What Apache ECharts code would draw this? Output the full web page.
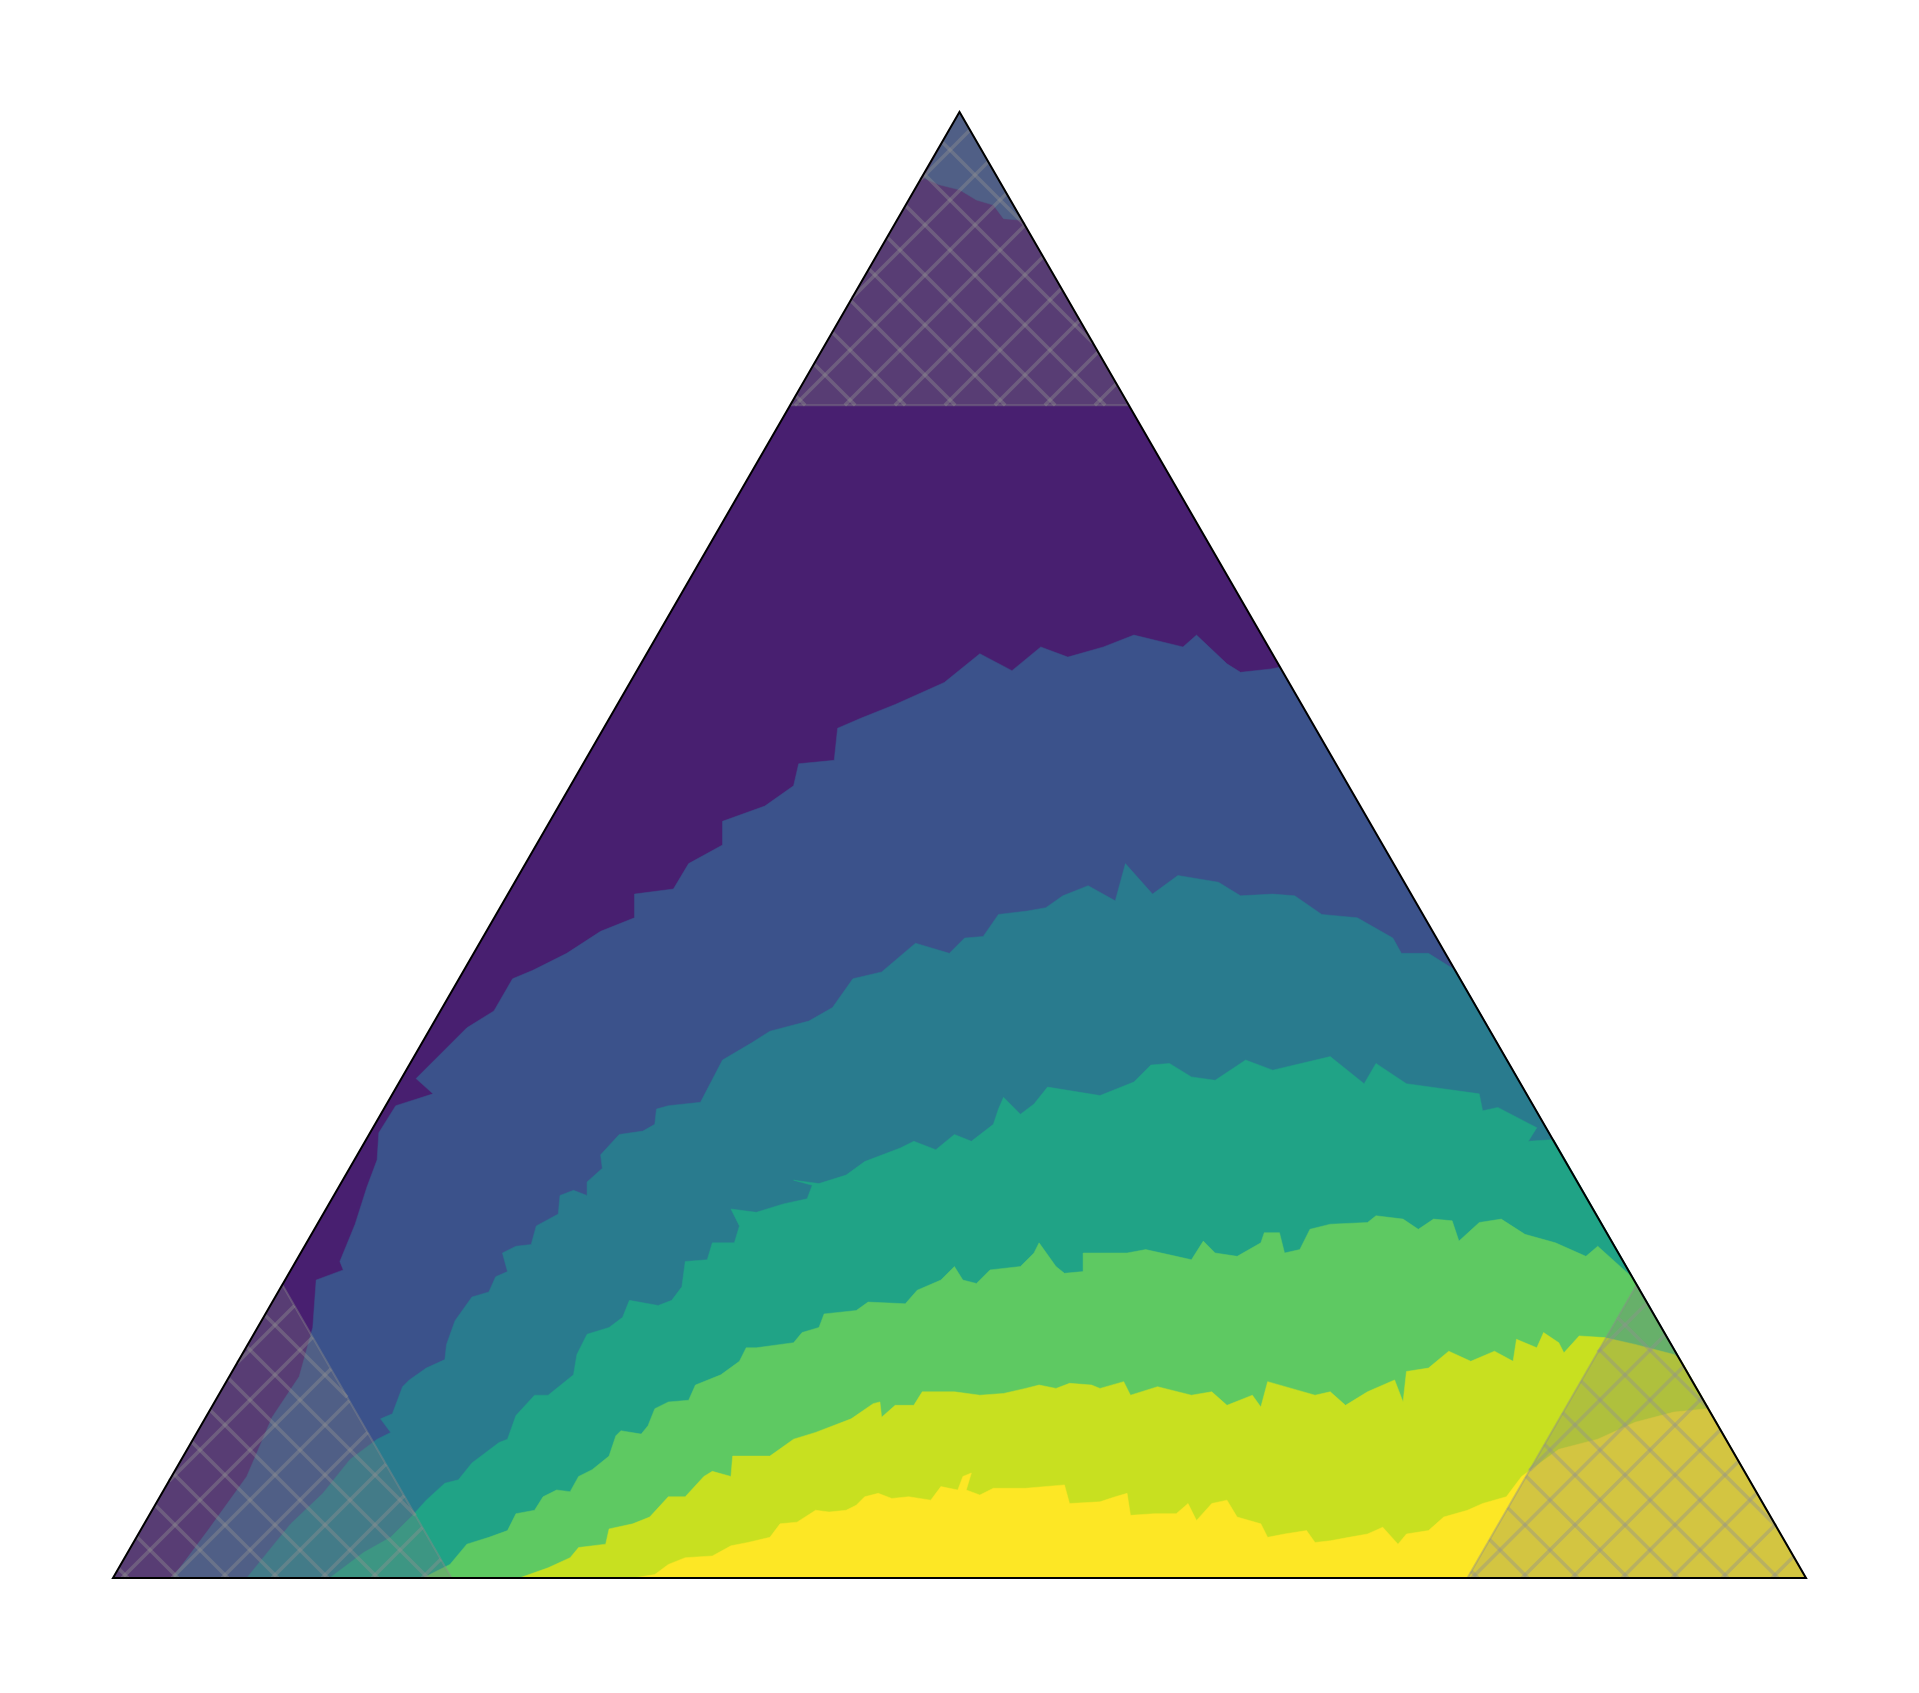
<!DOCTYPE html>
<html>
<head>
<meta charset="utf-8">
<script src="https://cdn.jsdelivr.net/npm/echarts@6/dist/echarts.min.js"></script>
<style>html,body{margin:0;padding:0;background:#fff}#chart{width:1919px;height:1693px}</style>
</head>
<body>
<div id="chart"></div>
<script>
// Ternary contour plot, cartesian projection in % of the triangle side (height 86.6)
const levelColors = ['#481f70', '#3b528b', '#297b8e', '#20a386', '#5ec962', '#c8e020', '#fde725'];
const hatchLimit = 0.8; // corner regions where a component exceeds 80 %
const triangle = [[0, 0], [100, 0], [50, 86.6]];

// top cap (level 1 reached again near the top vertex)
const topCap = [[47.9,82.7],[48.8,82.3],[50.0,82.0],[51.0,81.4],[52.0,81.1],[52.6,80.3],[53.7,80.2]];

// level 0 -> 1
const contour1 = [[3.5,0],[5.6,2.8],[7.9,6.0],[9.4,9.5],[11.0,11.9],[11.8,14.8],[12.0,17.6],[13.6,18.2],[13.4,18.7],[14.3,20.9],[15.0,23.1],[15.6,24.7],[15.7,26.3],[16.7,27.9],[18.9,28.6],[17.9,29.5],[19.6,31.2],[20.9,32.5],[22.5,33.5],[23.6,35.4],[24.8,35.9],[26.8,36.9],[28.8,38.2],[30.8,39.0],[30.8,40.4],[33.1,40.7],[34.0,42.2],[36.0,43.3],[36.0,44.7],[38.5,45.6],[40.2,46.8],[40.5,48.1],[42.6,48.3],[42.8,50.2],[44.2,50.8],[46.2,51.6],[49.1,52.9],[51.2,54.6],[53.1,53.6],[54.8,55.0],[56.4,54.4],[58.5,55.0],[60.3,55.7],[63.2,55.0],[64.0,55.7],[65.8,54.0],[66.6,53.5],[68.4,53.7],[68.9,53.8]];

// level 1 -> 2
const contour2 = [[7.9,0],[10.5,3.2],[12.4,5.0],[14.0,7.0],[15.6,8.2],[16.4,8.6],[15.8,9.4],[16.5,9.7],[17.1,11.3],[17.5,11.7],[18.5,12.4],[19.6,12.9],[19.7,13.8],[20.2,15.2],[21.2,16.6],[22.2,16.9],[22.6,17.8],[23.3,18.1],[23.0,19.2],[23.8,19.6],[24.7,19.7],[25.0,20.8],[26.3,21.5],[26.4,22.6],[27.2,22.9],[28.0,22.6],[28.0,23.4],[28.9,24.2],[28.8,25.0],[29.9,26.2],[31.3,26.4],[32.0,26.8],[32.1,27.7],[32.8,27.9],[34.7,28.1],[36.0,30.6],[37.7,31.6],[38.8,32.3],[41.1,32.9],[42.5,33.7],[43.7,35.4],[45.4,35.8],[47.4,37.5],[49.4,36.9],[50.3,37.8],[51.4,37.9],[52.3,39.2],[54.0,39.4],[55.1,39.6],[56.1,40.3],[57.6,40.9],[59.2,40.0],[59.8,42.2],[61.4,40.4],[62.9,41.5],[65.3,41.1],[66.6,40.3],[68.5,40.4],[69.8,40.3],[71.4,39.2],[73.5,39.0],[75.6,37.8],[76.1,36.9],[77.7,36.9],[79.3,35.9]];

// level 2 -> 3
const contour3 = [[12.8,0],[14.8,1.5],[16.4,2.4],[17.7,3.7],[18.5,4.6],[19.6,5.6],[20.4,5.8],[21.2,6.8],[22.8,8.0],[23.3,8.2],[23.8,9.6],[24.9,10.8],[25.7,10.8],[27.2,12.0],[27.4,13.2],[28.0,14.4],[29.3,14.8],[30.1,15.4],[30.5,16.4],[32.2,16.1],[33.0,16.4],[33.6,17.2],[33.8,18.7],[35.1,18.8],[35.4,19.8],[36.7,19.8],[37.0,20.8],[36.5,21.8],[38.0,21.6],[39.6,22.1],[41.0,22.4],[41.3,23.2],[40.2,23.5],[41.7,23.3],[43.3,23.8],[44.4,24.6],[46.5,25.4],[47.3,25.8],[48.6,25.3],[49.7,26.2],[50.7,25.8],[52.0,26.8],[52.3,27.7],[52.6,28.4],[53.6,27.4],[54.4,28.0],[55.2,29.0],[58.3,28.5],[60.3,29.3],[61.3,30.3],[62.4,30.4],[63.7,29.6],[65.1,29.4],[66.9,30.6],[68.5,30.0],[71.9,30.8],[73.9,29.2],[74.6,30.4],[76.4,29.2],[80.7,28.6],[80.9,27.6],[81.8,27.8],[84.1,26.6],[83.6,25.8],[85.1,25.9]];

// level 3 -> 4
const contour4 = [[18.3,0],[19.9,0.8],[20.9,2.0],[22.2,2.4],[23.3,2.8],[23.8,3.8],[24.9,4.0],[25.4,4.8],[26.2,5.2],[27.0,5.1],[27.5,6.0],[28.3,6.4],[29.3,7.2],[29.7,8.4],[30.0,8.7],[31.2,8.5],[31.6,9.0],[32.0,10.0],[32.8,10.4],[34.0,10.5],[34.4,11.4],[35.9,12.0],[37.0,12.8],[37.4,13.6],[38.0,13.6],[40.2,13.9],[40.7,14.5],[41.7,14.8],[42.0,15.6],[43.9,15.8],[44.6,16.3],[46.8,16.2],[47.5,17.0],[48.9,17.6],[49.7,18.4],[50.2,17.6],[51.0,17.4],[51.8,18.2],[53.6,18.4],[54.4,19.2],[54.7,19.8],[55.7,18.4],[56.2,18.0],[57.3,18.1],[57.3,19.2],[59.9,19.2],[61.0,19.4],[62.8,19.0],[63.7,18.8],[64.4,19.9],[65.1,19.2],[66.4,19.0],[67.8,19.8],[68.0,20.4],[68.9,20.4],[69.2,19.2],[70.1,19.4],[70.7,20.6],[71.9,20.9],[74.1,21.0],[74.6,21.4],[76.2,21.2],[77.1,20.6],[78.0,21.2],[79.1,21.1],[79.5,19.9],[80.7,21.0],[82.0,21.2],[83.4,20.3],[85.2,19.8],[87.0,19.0],[87.7,19.6],[89.7,17.8]];

// level 4 -> 5
const contour5 = [[24.0,0],[25.7,0.6],[27.0,1.2],[27.5,1.8],[29.1,2.0],[29.3,2.9],[30.7,3.2],[31.7,3.6],[32.8,4.8],[33.8,4.8],[34.9,6.0],[35.4,6.3],[36.5,6.0],[36.6,7.2],[38.8,7.2],[40.2,8.2],[41.5,8.6],[43.6,9.4],[44.9,10.3],[45.3,10.4],[45.4,9.5],[46.2,10.2],[47.3,10.2],[47.8,11.0],[49.7,11.0],[51.2,10.8],[52.6,10.9],[53.9,11.2],[54.7,11.4],[55.7,11.2],[56.5,11.5],[57.8,11.4],[58.3,11.2],[59.7,11.6],[60.1,10.8],[61.7,11.3],[63.7,10.8],[64.9,11.0],[65.8,10.2],[67.3,10.8],[67.8,10.1],[68.2,11.6],[69.6,11.2],[71.0,10.8],[71.9,11.0],[72.8,10.2],[74.1,11.0],[75.7,11.7],[76.2,10.4],[76.4,12.2],[77.7,12.4],[78.9,13.4],[80.2,12.8],[81.6,13.4],[82.7,12.8],[82.9,14.1],[84.1,13.6],[84.5,14.5],[85.4,13.9],[85.7,13.3],[86.6,14.3],[88.1,14.2],[89.9,13.8],[92.2,13.2],[92.6,12.9]];

// level 5 -> 6
const contour6 = [[30.7,0],[32.0,0.2],[32.8,0.8],[33.8,1.2],[35.4,1.3],[36.5,1.9],[37.5,2.1],[38.8,2.4],[39.4,3.2],[40.4,3.3],[41.5,4.0],[42.3,3.9],[43.3,4.0],[43.9,4.3],[44.4,4.8],[45.2,5.0],[46.0,4.7],[47.0,4.8],[48.3,4.6],[48.9,5.4],[49.9,5.2],[50.2,6.0],[50.7,6.2],[50.4,5.2],[51.2,4.9],[52.0,5.3],[53.9,5.3],[56.2,5.5],[56.5,4.4],[58.3,4.5],[59.2,4.8],[59.9,5.0],[60.1,3.7],[61.5,3.8],[62.8,3.8],[63.5,4.4],[64.0,3.4],[64.9,4.4],[65.8,4.6],[66.4,3.6],[67.8,3.2],[68.2,2.4],[69.2,2.6],[70.5,2.8],[71.0,2.1],[71.9,2.2],[73.0,2.4],[74.1,2.6],[75.0,3.0],[75.9,2.0],[76.4,2.6],[77.7,2.8],[78.6,3.6],[80.0,4.0],[80.9,4.4],[82.3,4.8],[83.2,6.0],[85.4,7.6],[87.7,8.2],[89.9,9.2],[92.2,9.8],[94.2,10.0]];

const contours = [contour1, contour2, contour3, contour4, contour5, contour6];

// ---- build polygons ----
const polygons = [];
polygons.push({ pts: triangle, color: levelColors[0] });
polygons.push({ pts: topCap.concat([triangle[2]]), color: levelColors[1] });
contours.forEach((c, i) => {
  polygons.push({ pts: c.concat([triangle[1]]), color: levelColors[i + 1] });
});

const hatchRegions = triangle.map((corner, k) => {
  const others = triangle.filter((_, j) => j !== k);
  const t = 1 - hatchLimit;
  return [corner].concat(others.map(o => [corner[0] + t * (o[0] - corner[0]), corner[1] + t * (o[1] - corner[1])]));
});

// 'x' hatch lines (screen space, 45 degrees) clipped to a pixel triangle
const HATCH_STEP = 50;
function hatchSegments(tri) {
  const segs = [];
  [[1, -1], [1, 1]].forEach(([a, b]) => {
    const vals = tri.map(p => a * p[0] + b * p[1]);
    const lo = Math.ceil(Math.min(...vals) / HATCH_STEP);
    const hi = Math.floor(Math.max(...vals) / HATCH_STEP);
    for (let k = lo; k <= hi; k++) {
      const c = k * HATCH_STEP;
      const pts = [];
      for (let i = 0; i < 3; i++) {
        const A = tri[i], B = tri[(i + 1) % 3];
        const fa = a * A[0] + b * A[1] - c, fb = a * B[0] + b * B[1] - c;
        if (fa === fb) continue;
        if ((fa <= 0 && fb >= 0) || (fa >= 0 && fb <= 0)) {
          const t = fa / (fa - fb);
          pts.push([A[0] + t * (B[0] - A[0]), A[1] + t * (B[1] - A[1])]);
        }
      }
      if (pts.length >= 2) {
        pts.sort((p, q) => (p[0] - q[0]) || (p[1] - q[1]));
        segs.push([pts[0], pts[pts.length - 1]]);
      }
    }
  });
  return segs;
}

const chart = echarts.init(document.getElementById('chart'), null, { renderer: 'canvas' });
chart.setOption({
  animation: false,
  backgroundColor: '#ffffff',
  grid: { left: 113, top: 112, width: 1693, height: 1466 },
  xAxis: { type: 'value', min: 0, max: 100, show: false },
  yAxis: { type: 'value', min: 0, max: 86.6, show: false },
  series: [
    {
      type: 'custom',
      coordinateSystem: 'cartesian2d',
      clip: false,
      data: polygons.map((_, i) => [i]),
      z: 1,
      renderItem: function (params, api) {
        const p = polygons[params.dataIndex];
        return {
          type: 'polygon',
          z2: params.dataIndex,
          shape: { points: p.pts.map(q => api.coord(q)) },
          style: { fill: p.color, stroke: p.color, lineWidth: 0.5 }
        };
      }
    },
    {
      type: 'custom',
      coordinateSystem: 'cartesian2d',
      clip: false,
      data: hatchRegions.map((_, i) => [i]),
      z: 5,
      renderItem: function (params, api) {
        const pts = hatchRegions[params.dataIndex].map(q => api.coord(q));
        const children = [{
          type: 'polygon',
          shape: { points: pts },
          style: { fill: 'rgba(123,123,123,0.32)', stroke: 'rgba(140,140,140,0.4)', lineWidth: 2 }
        }];
        hatchSegments(pts).forEach(s => {
          children.push({
            type: 'line',
            shape: { x1: s[0][0], y1: s[0][1], x2: s[1][0], y2: s[1][1] },
            style: { stroke: 'rgba(145,145,145,0.4)', lineWidth: 3.5 }
          });
        });
        return { type: 'group', children: children };
      }
    },
    {
      type: 'custom',
      coordinateSystem: 'cartesian2d',
      clip: false,
      data: [[0]],
      z: 10,
      renderItem: function (params, api) {
        return {
          type: 'polygon',
          shape: { points: triangle.map(q => api.coord(q)) },
          style: { fill: 'none', stroke: '#000000', lineWidth: 2, lineJoin: 'miter' }
        };
      }
    }
  ]
});
</script>
</body>
</html>
